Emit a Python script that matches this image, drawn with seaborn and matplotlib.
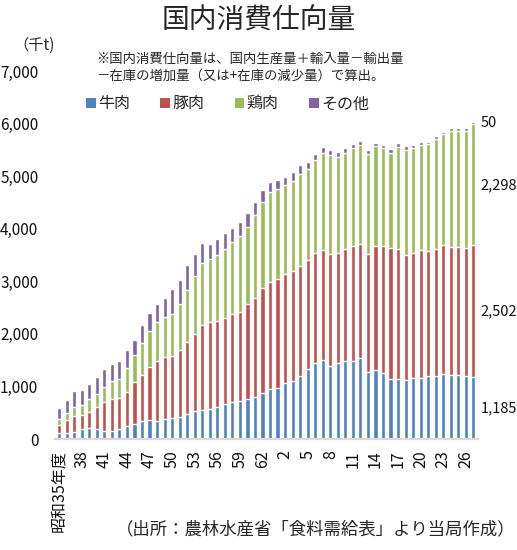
import numpy as np
import pandas as pd
import matplotlib
matplotlib.use('Agg')
import matplotlib.pyplot as plt
from matplotlib.patches import Patch
import seaborn as sns

sns.set_theme(style='white')
plt.rcParams['font.family'] = ['Noto Sans CJK JP', 'DejaVu Sans']

# 年度 (昭和35年度=1960 ～ 平成27年度=2015), 単位: 千t
years = list(range(1960, 2016))
tick_labels = ['昭和35年度', '38', '41', '44', '47', '50', '53', '56', '59', '62',
               '2', '5', '8', '11', '14', '17', '20', '23', '26']

beef = [120, 120, 127, 184, 209, 184, 146, 152, 190, 247,
        292, 336, 361, 349, 380, 393, 425, 472, 533, 552,
        577, 609, 659, 697, 723, 754, 793, 869, 951, 976,
        1071, 1103, 1198, 1331, 1439, 1512, 1395, 1452, 1484, 1490,
        1534, 1281, 1312, 1262, 1135, 1135, 1122, 1160, 1167, 1192,
        1198, 1230, 1211, 1217, 1192, 1185]
pork = [153, 241, 317, 272, 311, 431, 564, 615, 596, 653,
        798, 888, 1015, 1141, 1173, 1192, 1274, 1379, 1470, 1623,
        1642, 1635, 1649, 1687, 1699, 1814, 1895, 1997, 2041, 2074,
        2074, 2086, 2092, 2080, 2099, 2086, 2130, 2086, 2136, 2175,
        2181, 2238, 2359, 2415, 2498, 2485, 2384, 2384, 2428, 2390,
        2422, 2466, 2447, 2441, 2441, 2502]
chicken = [107, 134, 165, 191, 234, 247, 285, 330, 362, 450,
           508, 596, 672, 735, 761, 786, 875, 983, 1091, 1173,
           1205, 1256, 1306, 1363, 1439, 1471, 1572, 1648, 1706, 1699,
           1686, 1718, 1757, 1724, 1769, 1835, 1870, 1826, 1820, 1863,
           1877, 1908, 1902, 1858, 1813, 1934, 1991, 1991, 2003, 2023,
           2092, 2105, 2207, 2200, 2232, 2298]
other = [216, 240, 304, 285, 292, 311, 330, 330, 329, 343,
         285, 355, 349, 336, 361, 482, 450, 475, 418, 380,
         291, 298, 298, 273, 260, 253, 241, 222, 190, 177,
         159, 171, 158, 140, 114, 127, 108, 88, 88, 89,
         82, 63, 63, 63, 70, 82, 70, 57, 51, 50,
         51, 44, 50, 51, 44, 50]

names = ['牛肉', '豚肉', '鶏肉', 'その他']
colors = ['#4F81BD', '#C0504D', '#9BBB59', '#8064A2']

df = pd.DataFrame({'year': years, '牛肉': beef, '豚肉': pork,
                   '鶏肉': chicken, 'その他': other})
cum = df[names].cumsum(axis=1)

fig = plt.figure(figsize=(5.17, 5.5), dpi=100)
ax = fig.add_axes([0.1064, 0.2018, 0.818, 0.669])

# stacked bars: draw cumulative totals from the top layer down
for name, col in reversed(list(zip(names, colors))):
    sns.barplot(x=df['year'], y=cum[name], color=col, saturation=1,
                width=0.55, errorbar=None, ax=ax)

ax.set_xlim(-0.55, len(years) - 0.4)
ax.set_ylim(0, 7000)
ax.set_yticks(range(0, 7001, 1000))
ax.set_yticklabels([f'{v:,}' for v in range(0, 7001, 1000)], fontsize=11)
ax.set_xticks(range(0, len(years), 3))
ax.set_xticklabels(tick_labels, rotation=90, fontsize=11.5)
ax.tick_params(axis='y', length=0, pad=12, colors='#111111')
ax.tick_params(axis='x', length=0, pad=8, colors='#111111')
ax.set_xlabel('')
ax.set_ylabel('')
for s in ['left', 'top', 'right']:
    ax.spines[s].set_visible(False)
ax.spines['bottom'].set_color('#D9D9D9')
ax.spines['bottom'].set_linewidth(1.6)

# data labels for the last year
last = len(years) - 1
prev = 0
for name in names:
    v = df[name].iloc[last]
    ax.text(last + 1.0, prev + v / 2, f'{v:,}', fontsize=10.5,
            ha='left', va='center', color='#111111')
    prev += v

handles = [Patch(facecolor=c, edgecolor='none') for c in colors]
fig.legend(handles, names, loc='center', bbox_to_anchor=(0.44, 0.811),
           ncol=4, frameon=False, fontsize=11.5, handlelength=0.6,
           handleheight=0.6, handletextpad=0.15, columnspacing=1.9)

fig.text(0.5, 0.963, '国内消費仕向量', ha='center', va='center', fontsize=20)
fig.text(0.025, 0.918, '（千t)', ha='left', va='center', fontsize=11)
fig.text(0.186, 0.894, '※国内消費仕向量は、国内生産量＋輸入量－輸出量',
         ha='left', va='center', fontsize=9.6)
fig.text(0.186, 0.863, '－在庫の増加量（又は+在庫の減少量）で算出。',
         ha='left', va='center', fontsize=9.6)
fig.text(0.997, 0.037, '（出所：農林水産省「食料需給表」より当局作成）',
         ha='right', va='center', fontsize=12.5)

fig.savefig('out.png', dpi=100)
